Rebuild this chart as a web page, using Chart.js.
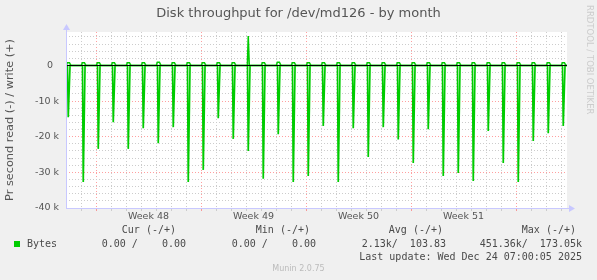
<!DOCTYPE html>
<html lang="en">
<head>
    <meta charset="UTF-8">
    <title>Disk throughput for /dev/md126 - by month</title>
    <script src="https://cdn.jsdelivr.net/npm/chart.js"></script>
    <style>
        body { margin: 0; background: #f0f0f0; }
        #wrap {
            position: relative; width: 597px; height: 280px; overflow: hidden;
            font-family: "DejaVu Sans", sans-serif; color: #555;
        }
        #chart { position: absolute; left: 0; top: 0; }
        .txt { position: absolute; white-space: pre; }
        .mono { font-family: "DejaVu Sans Mono", monospace; font-size: 10px; line-height: 12px; color: #4a4a4a; }
        #title { left: 0; width: 597px; top: 5px; text-align: center; font-size: 13px; line-height: 15px; }
        #watermark {
            right: 2px; top: 5px; writing-mode: vertical-rl;
            font-size: 8.5px; line-height: 10px; color: #cccccc;
        }
        #swatch { position: absolute; left: 14px; top: 241px; width: 6px; height: 6px; background: #00cc00; }
        #footer { left: 0; width: 597px; top: 264px; text-align: center; font-size: 8px; line-height: 10px; color: #bbb; }
    </style>
</head>
<body>
<div id="wrap">
    <canvas id="chart" width="597" height="280"></canvas>
    <div id="title" class="txt">Disk throughput for /dev/md126 - by month</div>
    <div id="watermark" class="txt">RRDTOOL / TOBI OETIKER</div>

    <!-- legend block -->
    <div class="txt mono" style="top:224px; right:421px">Cur (-/+)</div>
    <div class="txt mono" style="top:224px; right:287px">Min (-/+)</div>
    <div class="txt mono" style="top:224px; right:154px">Avg (-/+)</div>
    <div class="txt mono" style="top:224px; right:21px">Max (-/+)</div>
    <div id="swatch"></div>
    <div class="txt mono" style="top:238px; left:27px">Bytes</div>
    <div class="txt mono" style="top:238px; right:411px">0.00 /    0.00</div>
    <div class="txt mono" style="top:238px; right:281px">0.00 /    0.00</div>
    <div class="txt mono" style="top:238px; right:151px">2.13k/  103.83</div>
    <div class="txt mono" style="top:238px; right:15px">451.36k/  173.05k</div>
    <div class="txt mono" style="top:251px; right:15px">Last update: Wed Dec 24 07:00:05 2025</div>
    <div id="footer" class="txt">Munin 2.0.75</div>
</div>

<script>
    // x axis is in days from the left edge of the graph
    const weekLabels = ['Week 48', 'Week 49', 'Week 50', 'Week 51'];
    const weekStarts = [2, 9, 16, 23, 30];
    const dayCount = 33;
    const DAY_MAX = 33.4;

    // one read burst per day (k bytes/s, drawn negative) and the small write bump next to it
    const readPeaks = [14.5, 32.7, 23.4, 15.9, 23.4, 17.6, 21.8, 17.3, 32.7, 29.3, 14.8, 20.6,
                       24.0, 31.8, 19.3, 32.7, 31.0, 17.0, 32.7, 17.6, 25.7, 17.3, 20.8, 27.4,
                       17.9, 31.0, 30.2, 32.4, 18.4, 27.4, 32.7, 21.2, 19.0, 17.0];
    const writePeaks = [0.8, 0.8, 0.8, 0.8, 0.8, 0.8, 0.9, 0.8, 0.8, 0.8, 0.8, 0.8,
                        8.25, 0.8, 0.9, 0.8, 0.8, 0.8, 0.8, 0.8, 0.8, 0.8, 0.8, 0.8,
                        0.8, 0.8, 0.8, 0.8, 0.8, 0.8, 0.8, 0.8, 0.8, 0.8];
    const spikeOffset = 0.15; // bursts happen a little after midnight

    const yTickValues = [];
    for (let v = -40000; v <= 8000; v += 2000) yTickValues.push(v);

    const xTickValues = [];
    for (let d = 0; d <= dayCount; d++) xTickValues.push(d);
    weekStarts.slice(0, weekLabels.length).forEach(w => xTickValues.push(w + 3.5));
    xTickValues.sort((a, b) => a - b);

    // build the line series from the daily peaks
    const readData = [{x: 0, y: 0}];
    const writeData = [{x: 0, y: 0}];
    readPeaks.forEach((r, i) => {
        const t = i + spikeOffset;
        readData.push({x: t - 0.05, y: 0}, {x: t, y: -r * 1000}, {x: t + 0.12, y: 0});
        const w = writePeaks[i] * 1000;
        if (writePeaks[i] > 2) {
            writeData.push({x: t - 0.06, y: 0}, {x: t, y: w}, {x: t + 0.07, y: 0});
        } else {
            writeData.push({x: t - 0.13, y: 0}, {x: t - 0.06, y: w}, {x: t + 0.08, y: w}, {x: t + 0.18, y: 0});
        }
    });
    readData.push({x: DAY_MAX, y: 0});
    writeData.push({x: DAY_MAX, y: 0});

    const GREEN = '#00cc00';
    const GRID = '#cccccc';
    const MGRID = 'rgba(255, 80, 80, 0.55)';
    const AXIS = '#c8c8ff';

    const plotBackground = {
        id: 'plotBackground',
        beforeDraw(chart) {
            const {ctx, chartArea: a} = chart;
            ctx.save();
            ctx.fillStyle = '#ffffff';
            ctx.fillRect(a.left, a.top, a.right - a.left, a.bottom - a.top);
            ctx.restore();
        },
        afterDraw(chart) {
            // rrdtool style axis arrows
            const {ctx, chartArea: a} = chart;
            ctx.save();
            ctx.strokeStyle = AXIS;
            ctx.fillStyle = AXIS;
            ctx.lineWidth = 1;
            ctx.beginPath();
            ctx.moveTo(a.left + 0.5, a.bottom);
            ctx.lineTo(a.left + 0.5, a.top - 5);
            ctx.moveTo(a.left, a.bottom + 0.5);
            ctx.lineTo(a.right + 4, a.bottom + 0.5);
            ctx.stroke();
            ctx.beginPath();
            ctx.moveTo(a.left - 3, a.top - 2);
            ctx.lineTo(a.left + 4, a.top - 2);
            ctx.lineTo(a.left + 0.5, a.top - 8);
            ctx.closePath();
            ctx.fill();
            ctx.beginPath();
            ctx.moveTo(a.right + 2, a.bottom - 3);
            ctx.lineTo(a.right + 2, a.bottom + 4);
            ctx.lineTo(a.right + 8, a.bottom + 0.5);
            ctx.closePath();
            ctx.fill();
            ctx.restore();
        }
    };

    const tickFont = {family: 'DejaVu Sans', size: 9.5};

    new Chart(document.getElementById('chart'), {
        type: 'line',
        data: {
            datasets: [
                {
                    label: 'zero',
                    data: [{x: 0, y: 0}, {x: DAY_MAX, y: 0}],
                    borderColor: '#000000',
                    borderWidth: 1
                },
                {
                    label: 'read',
                    data: readData,
                    borderColor: GREEN,
                    borderWidth: 1.7
                },
                {
                    label: 'write',
                    data: writeData,
                    borderColor: GREEN,
                    borderWidth: 1.5
                }
            ]
        },
        options: {
            responsive: false,
            animation: false,
            devicePixelRatio: 1,
            layout: {padding: {top: 32, right: 30, bottom: 0, left: 0}},
            elements: {point: {radius: 0}, line: {tension: 0}},
            plugins: {legend: {display: false}, tooltip: {enabled: false}},
            scales: {
                x: {
                    type: 'linear',
                    min: 0,
                    max: DAY_MAX,
                    afterBuildTicks: s => { s.ticks = xTickValues.map(v => ({value: v})); },
                    afterFit: s => { s.height = 72; },
                    grid: {
                        color: c => {
                            const v = c.tick ? c.tick.value : 0;
                            if (!Number.isInteger(v) || v === 0) return 'rgba(0,0,0,0)';
                            return weekStarts.includes(v) ? MGRID : GRID;
                        },
                        tickLength: 3,
                        lineWidth: 1
                    },
                    border: {display: false, dash: [1, 2]},
                    ticks: {
                        autoSkip: false,
                        maxRotation: 0,
                        padding: 0,
                        color: '#555',
                        font: tickFont,
                        callback: v => {
                            const i = weekStarts.indexOf(v - 3.5);
                            return (!Number.isInteger(v) && i >= 0) ? weekLabels[i] : '';
                        }
                    }
                },
                y: {
                    min: -40000,
                    max: 9400,
                    afterBuildTicks: s => { s.ticks = yTickValues.map(v => ({value: v})); },
                    afterFit: s => { s.width = 66; },
                    grid: {
                        color: c => {
                            const v = c.tick ? c.tick.value : 1;
                            if (v === 0 || v === -40000) return 'rgba(0,0,0,0)';
                            return v % 10000 === 0 ? MGRID : GRID;
                        },
                        drawTicks: false,
                        lineWidth: 1
                    },
                    border: {display: false, dash: [1, 2]},
                    title: {
                        display: true,
                        text: 'Pr second read (-) / write (+)',
                        color: '#555',
                        font: {family: 'DejaVu Sans', size: 11.3},
                        padding: {top: 3, bottom: 0}
                    },
                    ticks: {
                        autoSkip: false,
                        padding: 7,
                        color: '#555',
                        font: tickFont,
                        callback: v => {
                            if (v % 10000 !== 0) return '';
                            return v === 0 ? '0  ' : (v / 1000) + ' k';
                        }
                    }
                }
            }
        },
        plugins: [plotBackground]
    });
</script>
</body>
</html>
